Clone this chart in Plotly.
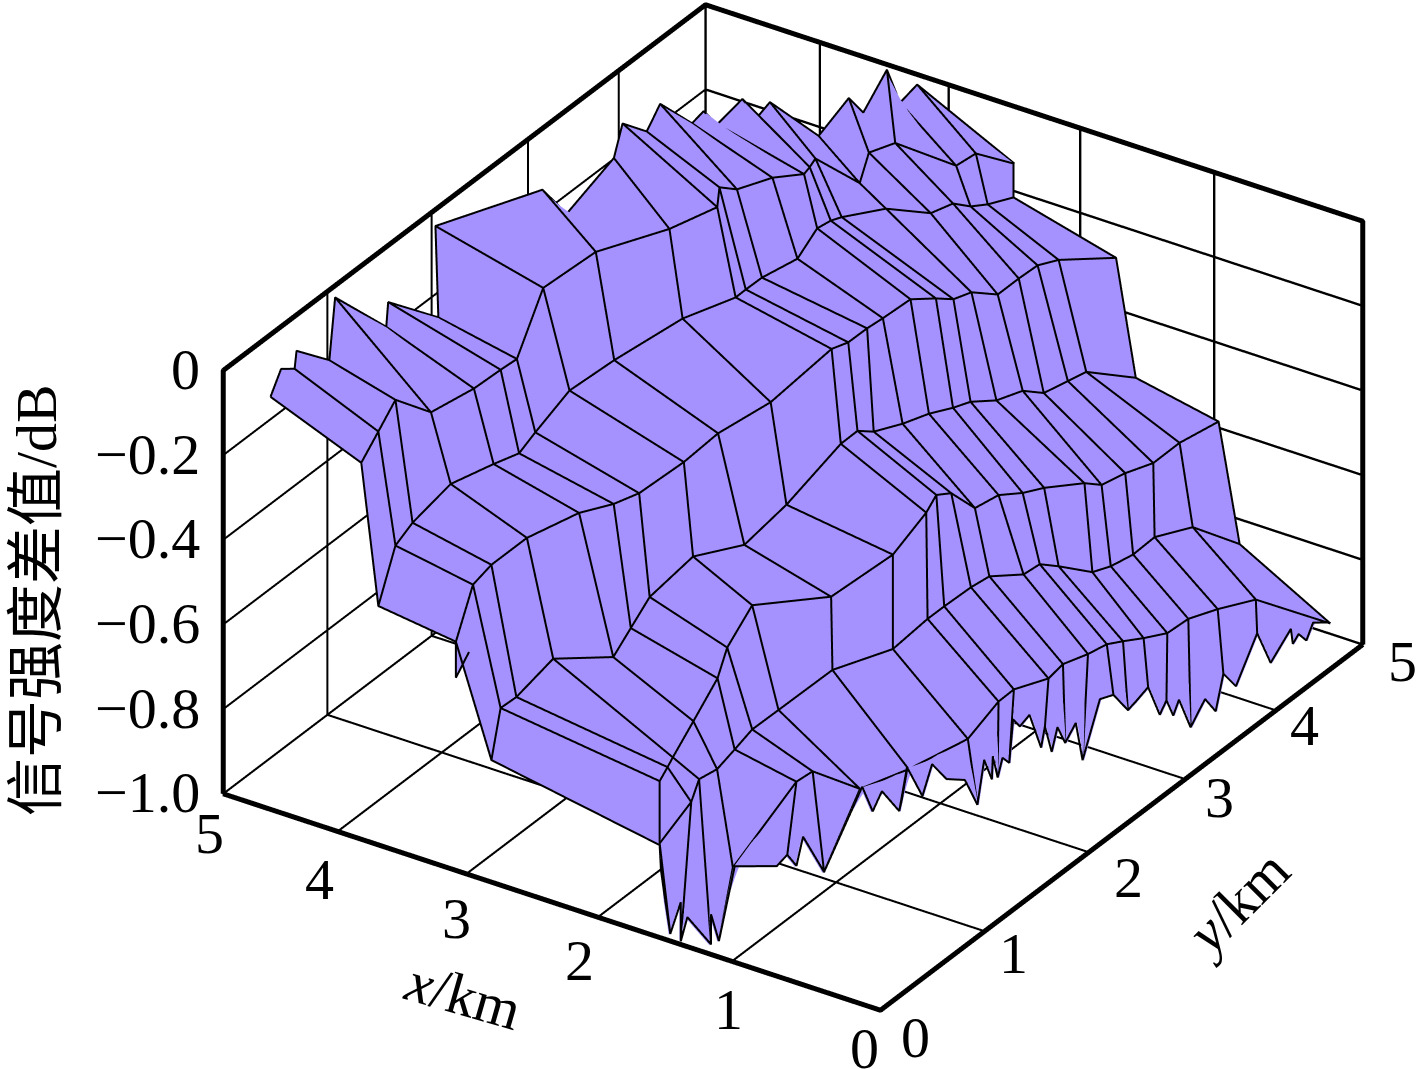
import numpy as np
import plotly.graph_objects as go

fill_color = "#A692FF"

# y position of every mesh column
y_cols = [0.15, 0.30, 0.45, 0.60, 0.80, 1.20, 1.60, 1.90, 2.35, 2.80, 3.20, 3.40,
          3.50, 3.65, 3.80, 3.90, 4.00, 4.05, 4.20, 4.35, 4.45, 4.60, 4.80]

# mesh rows, far to near
row1_x = [4.06, 4.04, 4.02, 3.86, 3.68, 3.77, 3.94, 3.96, 3.89, 3.66, 3.59, 3.72,
          3.66, 3.50, 3.37, 3.40, 3.43, 3.13, 3.17, 3.08, 2.69, 2.65, 2.51]
row1_z = [-.148, -.098, -.047, -.086, -.046, -.080, -.141, -.027, -.012, -.010, -.023, -.024,
          -.040, -.022, -.026, -.030, -.030, -.066, -.024, -.018, -.049, -.042, -.086]
row2_x = [3.93, 3.91, 3.89, 3.71, 3.53, 3.63, 3.80, 3.76, 3.75, 3.56, 3.45, 3.52,
          3.47, 3.31, 3.27, 3.24, 3.23, 2.93, 2.70, 2.64, 2.58, 2.56, 2.51]
row2_z = [-.473, -.354, -.324, -.240, -.209, -.263, -.300, -.249, -.254, -.214, -.222, -.245,
          -.229, -.194, -.144, -.140, -.148, -.106, -.119, -.116, -.134, -.153, -.166]
row3_x = [3.34, 3.32, 3.29, 3.13, 2.88, 2.91, 3.01, 2.89, 2.96, 2.89, 2.72, 2.74,
          2.67, 2.66, 2.56, 2.44, 2.38, 2.28, 2.19, 2.14, 2.07, 2.02, 1.73]
row3_z = [-.497, -.386, -.362, -.308, -.258, -.309, -.363, -.329, -.346, -.343, -.269, -.290,
          -.267, -.268, -.239, -.242, -.255, -.237, -.259, -.242, -.221, -.229, -.229]
row4_x = [3.07, 3.11, 3.10, 2.93, 2.62, 2.78, 2.93, 2.82, 2.76, 2.77, 2.65, 2.67,
          2.62, 2.51, 2.42, 2.31, 2.25, 2.09, 2.00, 1.95, 1.84, 1.81, 1.58]
row4_z = [-.749, -.656, -.655, -.573, -.572, -.589, -.600, -.545, -.589, -.573, -.486, -.492,
          -.506, -.502, -.495, -.487, -.484, -.473, -.467, -.493, -.471, -.472, -.497]
row5_x = [1.79, 1.90, 1.95, 2.02, 2.01, 2.12, 2.34, 2.37, 2.10, 1.96, 2.00, 2.07,
          2.03, 1.96, 1.89, 1.78, 1.69, 1.42, 1.40, 1.33, 1.19, 1.10, 0.95]
row5_z = [-.819, -.705, -.703, -.713, -.661, -.640, -.659, -.614, -.644, -.608, -.582, -.582,
          -.591, -.645, -.633, -.634, -.630, -.600, -.628, -.619, -.598, -.567, -.536]
row6_x = [1.78, 1.90, 1.77, 1.82, 1.83, 1.99, 2.15, 2.17, 2.09, 1.96, 1.99, 2.01,
          1.88, 1.85, 1.70, 1.65, 1.58, 1.36, 1.33, 1.27, 1.18, 1.00, 0.79]
row6_z = [-.877, -.852, -.767, -.744, -.756, -.795, -.833, -.841, -.816, -.831, -.832, -.839,
          -.798, -.795, -.801, -.789, -.804, -.804, -.813, -.805, -.772, -.756, -.809]
row7_x = [1.78, 1.90, 1.77, 1.82, 1.71, 1.52, 1.69, 1.55, 1.51, 1.39, 1.45, 1.48,
          1.29, 1.29, 1.21, 1.14, 1.09, 0.97, 0.90, 0.85, 0.70, 0.52, 0.10]
row7_z = [-.877, -.852, -.767, -.744, -.976, -.823, -.885, -.964, -.991, -.985, -.972, -.981,
          -.953, -.945, -.939, -.926, -.931, -.920, -.927, -.914, -.893, -.878, -.926]

# small notch on the left side between rows 3 and 4
notch_x = [3.34, 3.34, 3.24]
notch_y = [0.15, 0.15, 0.15]
notch_z = [-.497, -.582, -.511]

# jagged far edge, x = 5 then y = 5
far_x = [5] * 18 + [4.91, 4.72, 4.61, 4.51, 4.14, 3.91, 3.80, 3.62, 3.52, 3.39, 2.65]
far_y = [.49, .60, .74, .76, 1.10, 1.16, 1.69, 1.71, 2.23, 2.20, 3.31, 3.56, 4.05, 4.14, 4.39,
         4.53, 4.86, 4.98] + [5] * 11
far_z = [-.147, -.100, -.124, -.085, -.166, -.028, -.189, -.134, -.260, -.039, -.145, -.245,
         -.198, -.132, -.194, -.153, -.256, -.248, -.273, -.194, -.227, -.180, -.222, -.109,
         -.132, -.010, -.080, -.024, -.135]
far_tips = [0, 2, 4, 5, 6, 7, 8, 9, 10, 12, 13, 14, 15, 16, 18, 19, 21, 22, 23, 25, 26, 27, 28]

# jagged near edge, y = 0 then x = 0
near_x = [1.65, 1.61, 1.53, 1.53, 1.48, 1.30, 1.30, 1.24, 1.12, 0.80, 0.72, 0.65, 0.60, 0.44,
          0.44, 0.15, 0.07] + [0] * 46
near_y = [0] * 17 + [.03, .21, .29, .45, .55, .70, .89, 1.02, 1.09, 1.17, 1.18, 1.23, 1.28,
                     1.35, 1.39, 1.46, 1.56, 1.68, 1.72, 1.79, 1.85, 1.93, 2.04, 2.11, 2.29,
                     2.43, 2.58, 2.66, 2.79, 2.91, 2.98, 3.05, 3.11, 3.23, 3.38, 3.49, 3.57,
                     3.70, 3.92, 4.06, 4.27, 4.29, 4.35, 4.43, 4.50, 4.67]
near_z = [-.909, -.987, -.904, -.996, -.934, -.980, -.909, -.966, -.777, -.744, -.709, -.728,
          -.654, -.721, -.721, -.490, -.540, -.489, -.567, -.477, -.573, -.515, -.576, -.611,
          -.692, -.598, -.658, -.605, -.664, -.626, -.650, -.554, -.583, -.573, -.671, -.628,
          -.700, -.652, -.703, -.675, -.775, -.662, -.676, -.738, -.732, -.720, -.806, -.784,
          -.832, -.805, -.891, -.850, -.898, -.823, -.875, -.788, -.882, -.838, -.877, -.864,
          -.893, -.863, -.892]
near_tips = [0, 1, 3, 5, 7, 10, 13, 14, 18, 24, 28, 30, 35, 38, 40, 42, 43, 45, 47, 50, 53, 55, 62]

x_ticks = [0, 1, 2, 3, 4, 5]
y_ticks = [0, 1, 2, 3, 4, 5]
z_ticks = [0, -0.2, -0.4, -0.6, -0.8, -1.0]
z_labels = ["0", "\u22120.2", "\u22120.4", "\u22120.6", "\u22120.8", "\u22121.0"]
# the grid of the original sits a little off the labelled integers
x_grid = [0, 1.13, 2.15, 3.15, 4.13, 5]
y_grid = [0, 1.08, 2.16, 3.16, 4.10, 5]

X = np.array([row1_x, row2_x, row3_x, row4_x, row5_x, row6_x, row7_x])
Z = np.array([row1_z, row2_z, row3_z, row4_z, row5_z, row6_z, row7_z])
Y = np.tile(y_cols, (7, 1))

flat = dict(ambient=1, diffuse=0, specular=0, fresnel=0, roughness=1)
one_color = [[0, fill_color], [1, fill_color]]


def add_surface(fig, sx, sy, sz):
    fig.add_trace(go.Surface(x=sx, y=sy, z=sz, colorscale=one_color, showscale=False,
                             lighting=flat, hoverinfo="skip"))


def stitched_row(values, tips):
    # one point on the mesh row for every point of the jagged edge
    out = []
    for j in range(len(values) - 1):
        out.extend(np.linspace(values[j], values[j + 1], tips[j + 1] - tips[j], endpoint=False))
    out.append(values[-1])
    return out


def pulled(xs, ys, zs, t):
    # slide along the view direction: same place on screen, closer to the camera
    return ([min(max(v - 0.734 * t, 0), 5) for v in xs],
            [min(max(v - t, 0), 5) for v in ys],
            [min(max(v + 0.25 * t, -1), 0) for v in zs])


def add_edge_strip(fig, row_x, row_y, row_z, ex, ey, ez, tips, t=0):
    a = pulled(stitched_row(row_x, tips), stitched_row(row_y, tips), stitched_row(row_z, tips), t)
    b = pulled(ex, ey, ez, t)
    add_surface(fig, [a[0], b[0]], [a[1], b[1]], [a[2], b[2]])


def line_points():
    px, py, pz = [], [], []

    def seg(xs, ys, zs, t=0.05):
        a, b, c = pulled(xs, ys, zs, t)
        px.extend(a + [None])
        py.extend(b + [None])
        pz.extend(c + [None])

    for r in range(6):
        seg(X[r], Y[r], Z[r])
    # last row only shows from the fifth column on
    seg(X[6][4:], Y[6][4:], Z[6][4:])
    for c in range(23):
        seg(X[:, c], Y[:, c], Z[:, c])
    seg(far_x, far_y, far_z)
    seg(near_x, near_y, near_z, 0.015)
    seg(notch_x, notch_y, notch_z)
    for c, k in enumerate(far_tips):
        seg([X[0, c], far_x[k]], [Y[0, c], far_y[k]], [Z[0, c], far_z[k]])
    for c, k in enumerate(near_tips):
        seg([X[6, c], near_x[k]], [Y[6, c], near_y[k]], [Z[6, c], near_z[k]], 0.015)
    return px, py, pz


fig = go.Figure()
add_surface(fig, X, Y, Z)
add_edge_strip(fig, X[0], Y[0], Z[0], far_x, far_y, far_z, far_tips)
# near strip goes slightly back so its mesh lines stay on top
add_edge_strip(fig, X[6], Y[6], Z[6], near_x, near_y, near_z, near_tips, -0.03)
fig.add_trace(go.Mesh3d(x=notch_x, y=notch_y, z=notch_z, i=[0], j=[1], k=[2], color=fill_color,
                        lighting=flat, flatshading=True, hoverinfo="skip"))

lx, ly, lz = line_points()
fig.add_trace(go.Scatter3d(x=lx, y=ly, z=lz, mode="lines", hoverinfo="skip",
                           line=dict(color="black", width=4)))

# heavy outline of the box
fig.add_trace(go.Scatter3d(
    x=[5, 0, 0, None, 5, 5, 5, 0, 0],
    y=[0, 0, 5, None, 0, 0, 5, 5, 5],
    z=[-1, -1, -1, None, -1, 0, 0, 0, -1],
    mode="lines", hoverinfo="skip", line=dict(color="black", width=10)))

tick_font = dict(family="Liberation Serif", size=58, color="black")
scene_notes = []
x_shift = [(-16, -38), (-21, -43), (-38, -37), (-30, -38), (-35, -42), (-14, -40)]
for v, s in zip(x_ticks, x_shift):
    scene_notes.append(dict(x=v, y=0, z=-1, text=str(v), showarrow=False, font=tick_font,
                            xshift=s[0], yshift=s[1]))
y_shift = [(35, -27), (37, -16), (55, -14), (50, -7), (38, -8), (40, -17)]
for v, s in zip(y_ticks, y_shift):
    scene_notes.append(dict(x=0, y=v, z=-1, text=str(v), showarrow=False, font=tick_font,
                            xshift=s[0], yshift=s[1]))
for v, t in zip(z_ticks, z_labels):
    scene_notes.append(dict(x=5, y=0, z=v, text=t, showarrow=False, font=tick_font,
                            xanchor="right", xshift=-21, yshift=1))


def axis_style(ticks, rng):
    return dict(range=rng, tickmode="array", tickvals=ticks, showticklabels=False, ticks="",
                title=dict(text=""), showbackground=False, showgrid=True, gridcolor="black",
                gridwidth=5, zeroline=False, showline=False, showspikes=False)


title_font = dict(family="Liberation Serif, Noto Sans CJK SC", size=58, color="black")
fig.update_layout(
    width=1417, height=1069, margin=dict(l=0, r=0, t=0, b=0),
    paper_bgcolor="white", showlegend=False,
    scene=dict(
        domain=dict(x=[169 / 1417, 1], y=[54 / 1069, 1]),
        xaxis=axis_style(x_grid, [5, 0]),
        yaxis=axis_style(y_grid, [0, 5]),
        zaxis=axis_style(z_ticks, [-1, 0]),
        aspectmode="manual",
        aspectratio=dict(x=1.551, y=1.727, z=0.963),
        camera=dict(eye=dict(x=0.951, y=-1.443, z=0.997),
                    up=dict(x=0, y=0, z=1), center=dict(x=0, y=0, z=0),
                    projection=dict(type="orthographic")),
        annotations=scene_notes,
    ),
    annotations=[
        dict(x=36 / 1417, y=1 - 600 / 1069, xref="paper", yref="paper", showarrow=False,
             xanchor="center", yanchor="middle",
             text="\u4fe1\u53f7\u5f3a\u5ea6\u5dee\u503c/dB", textangle=-90, font=title_font),
        dict(x=463 / 1417, y=1 - 995 / 1069, xref="paper", yref="paper", showarrow=False,
             xanchor="center", yanchor="middle",
             text="<i>x</i>/km", textangle=16, font=title_font),
        dict(x=1236 / 1417, y=1 - 903 / 1069, xref="paper", yref="paper", showarrow=False,
             xanchor="center", yanchor="middle",
             text="<i>y</i>/km", textangle=-45, font=title_font),
    ],
)

# the page's default body margin would push the chart 8px off and cut its right edge
fig.write_html("out.html", config=dict(displayModeBar=False),
               post_script="document.body.style.margin='0';")
